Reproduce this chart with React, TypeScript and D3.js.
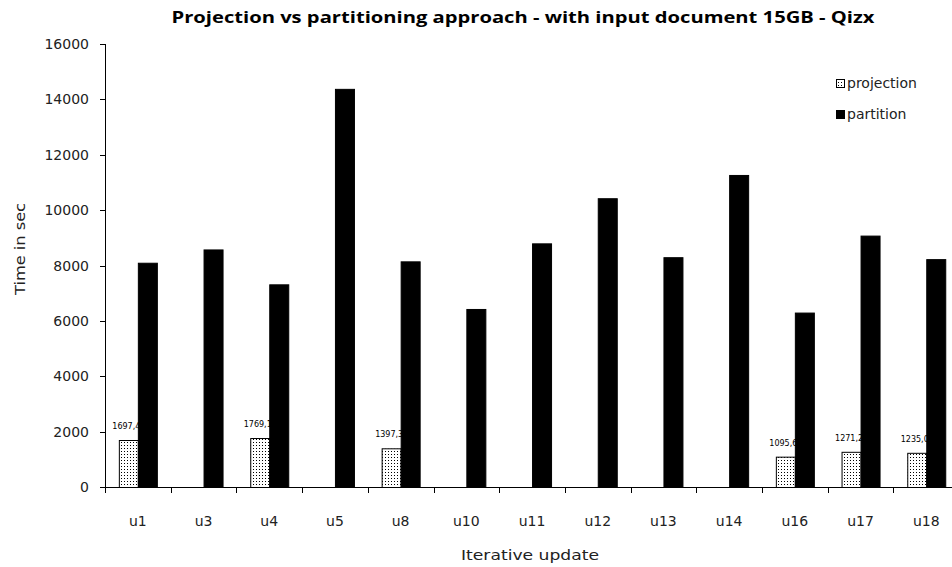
import React from "react";
import * as d3 from "d3";

const categories = ["u1", "u3", "u4", "u5", "u8", "u10", "u11", "u12", "u13", "u14", "u16", "u17", "u18"];
const projection: (number | null)[] = [1697.4, null, 1769.1, null, 1397.3, null, null, null, null, null, 1095.6, 1271.2, 1235.0];
const partition = [8100, 8580, 7320, 14380, 8150, 6430, 8800, 10430, 8300, 11270, 6300, 9080, 8230];
const yTicks = [0, 2000, 4000, 6000, 8000, 10000, 12000, 14000, 16000];
const seriesNames = ["projection", "partition"];

const W = 952, H = 567;
const left = 105, top = 44, bottom = 487;
const bandW = 65.7;
const right = left + bandW * categories.length;

export default function App() {
  const x = d3.scaleBand<string>().domain(categories).range([left, right]).paddingInner(0).paddingOuter(0);
  const y = d3.scaleLinear().domain([0, 16000]).range([bottom, top]);
  const barW = 19;
  const font = "'DejaVu Sans', Verdana, sans-serif";
  return (
    <svg width={W} height={H} style={{ position: "absolute", left: 0, top: 0, background: "#fff" }}>
      <defs>
        <pattern id="dots" width="3" height="3" patternUnits="userSpaceOnUse">
          <rect width="3" height="3" fill="#fff" />
          <rect x="1" y="1" width="1" height="1" fill="#000" />
        </pattern>
      </defs>
      <text x={523} y={23} textAnchor="middle" fontFamily="'Open Sans', sans-serif" fontWeight="bold" fontSize={16} fill="#000" textLength={703} lengthAdjust="spacingAndGlyphs">
        Projection vs partitioning approach - with input document 15GB - Qizx
      </text>
      {/* y axis */}
      <line x1={left + 0.5} x2={left + 0.5} y1={top} y2={bottom} stroke="#000" />
      {yTicks.map((t) => (
        <g key={t}>
          <line x1={left - 5} x2={left} y1={Math.round(y(t)) + 0.5} y2={Math.round(y(t)) + 0.5} stroke="#000" />
          <text x={89} y={y(t) + 5} textAnchor="end" fontFamily={font} fontSize={14} fill="#222">{t}</text>
        </g>
      ))}
      {/* x axis */}
      <line x1={left} x2={right} y1={bottom + 0.5} y2={bottom + 0.5} stroke="#000" />
      {categories.map((c) => (
        <line key={"t" + c} x1={Math.round(x(c)!) + 0.5} x2={Math.round(x(c)!) + 0.5} y1={bottom} y2={bottom + 6} stroke="#000" />
      ))}
      {categories.map((c) => (
        <text key={"l" + c} x={x(c)! + bandW / 2} y={526} textAnchor="middle" fontFamily={font} fontSize={14} fill="#222">{c}</text>
      ))}
      {/* projection bars and labels */}
      {categories.map((c, i) => {
        const v = projection[i];
        if (v == null) return null;
        const cx = x(c)! + bandW / 2;
        const x0 = cx - barW;
        return (
          <g key={"p" + c}>
            <rect x={x0 + 0.5} y={y(v) + 0.5} width={barW} height={bottom - y(v)} fill="url(#dots)" stroke="#000" />
            <text x={x0 + barW / 2 - 2} y={y(v) - 11} textAnchor="middle" fontFamily={font} fontSize={8} fill="#000">
              {v.toFixed(1).replace(".", ",")}
            </text>
          </g>
        );
      })}
      {categories.map((c, i) => {
        const v = partition[i];
        const cx = x(c)! + bandW / 2;
        return <rect key={"q" + c} x={cx + 0.5} y={y(v) + 0.5} width={barW} height={bottom - y(v)} fill="#000" stroke="#000" />;
      })}
      {/* legend */}
      <rect x={836.5} y={79.5} width={8} height={8} fill="url(#dots)" stroke="#000" />
      <text x={847} y={88} fontFamily={font} fontSize={14} fill="#222">{seriesNames[0]}</text>
      <rect x={836.5} y={110.5} width={8} height={8} fill="#000" stroke="#000" />
      <text x={847} y={119} fontFamily={font} fontSize={14} fill="#222">{seriesNames[1]}</text>
      {/* axis titles */}
      <text x={530} y={560} textAnchor="middle" fontFamily={font} fontSize={14} fill="#222" textLength={138} lengthAdjust="spacingAndGlyphs">Iterative update</text>
      <text transform={`translate(25,${249}) rotate(-90)`} textAnchor="middle" fontFamily={font} fontSize={14} fill="#222" textLength={92} lengthAdjust="spacingAndGlyphs">Time in sec</text>
    </svg>
  );
}
